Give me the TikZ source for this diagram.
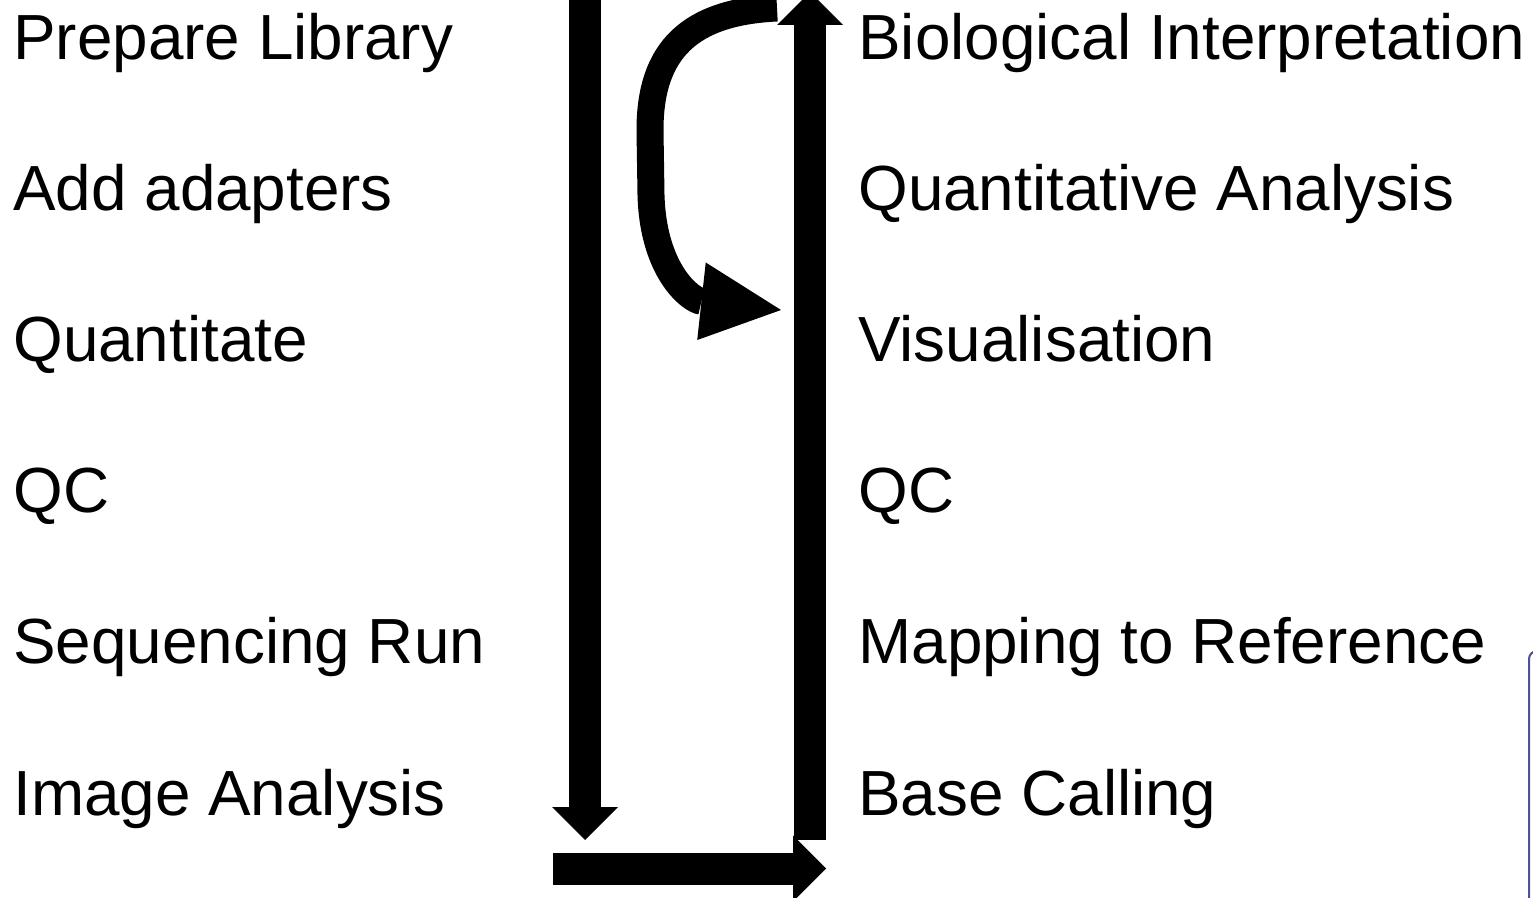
\documentclass[tikz,border=0pt]{standalone}
\usepackage{fontspec}
\setmainfont{Liberation Sans}
\usetikzlibrary{arrows.meta}
\definecolor{boxpurple}{RGB}{80,80,150}
\begin{document}
\begin{tikzpicture}[x=0.5pt,y=-0.5pt,
  lbl/.style={anchor=base west, inner sep=0pt, font=\fontsize{31.9pt}{38pt}\selectfont},
  bigarrow/.style={line width=16pt, line cap=butt, -{Triangle[length=16.5pt,width=33pt,line width=0pt]}},
  curvearrow/.style={line width=13.5pt, line cap=butt, -{Triangle[length=40pt,width=39pt,line width=0pt]}},
  bracket/.style={draw=boxpurple, line width=1pt, rounded corners=4pt}]
\useasboundingbox (0,0) rectangle (1533,898);
\clip (0,0) rectangle (1533,898);
% left column
\node[lbl] (l1) at (13,60)  {Prepare Library};
\node[lbl] (l2) at (13,211) {Add adapters};
\node[lbl] (l3) at (13,362) {Quantitate};
\node[lbl] (l4) at (13,513) {QC};
\node[lbl] (l5) at (13,664) {Sequencing Run};
\node[lbl] (l6) at (13,815) {Image Analysis};
% right column
\node[lbl] (r1) at (858,60)  {Biological Interpretation};
\node[lbl] (r2) at (858,211) {Quantitative Analysis};
\node[lbl] (r3) at (858,362) {Visualisation};
\node[lbl] (r4) at (858,513) {QC};
\node[lbl] (r5) at (858,664) {Mapping to Reference};
\node[lbl] (r6) at (858,815) {Base Calling};
% arrow end points
\coordinate (dnS) at (585,-20);
\coordinate (dnE) at (585,840);
\coordinate (rtS) at (553,868.5);
\coordinate (rtE) at (826,868.5);
\coordinate (upS) at (810,840);
\coordinate (upE) at (810,-8);
\coordinate (cvS) at (777,8);
\coordinate (cvE) at (781,310);
\draw[bigarrow] (dnS) -- (dnE);
\draw[bigarrow] (rtS) -- (rtE);
\draw[bigarrow] (upS) -- (upE);
\draw[curvearrow] (cvS) .. controls (690,12) and (650,50) .. (650,130) -- (651,195) .. controls (653,270) and (690,300) .. (cvE);
% partial box at right edge
\coordinate (bxA) at (1529,900);
\coordinate (bxB) at (1545,651);
\draw[bracket] (bxA) |- (bxB);
\end{tikzpicture}
\end{document}
